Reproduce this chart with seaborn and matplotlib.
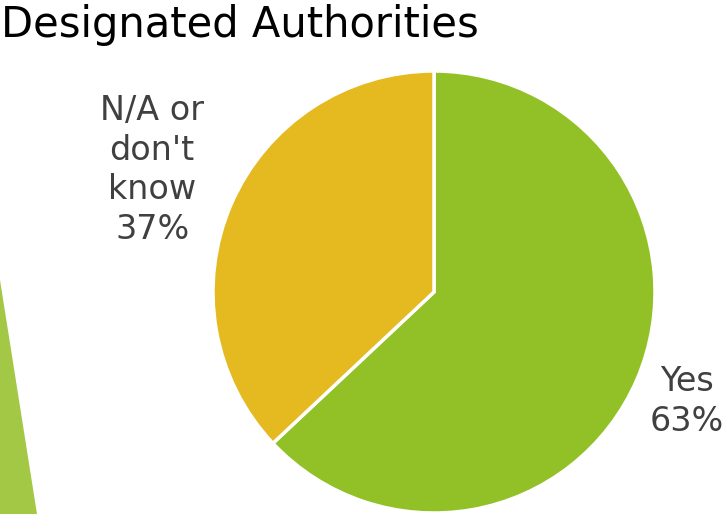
import numpy as np
import matplotlib
matplotlib.use("Agg")
import matplotlib.pyplot as plt
import seaborn as sns

# Survey answers
categories = ["Yes", "N/A or\ndon't\nknow"]
shares = [63, 37]

sns.set_theme(style="white")
plt.rcParams["font.family"] = ["DejaVu Sans"]

slice_colors = ["#92C127", "#E5B920"]
label_dist = [1.245, 1.39]

fig = plt.figure(figsize=(7.25, 5.14), dpi=100)

# decorative accent on the left edge
deco = fig.add_axes([0, 0, 1, 1])
deco.set_xlim(0, 725)
deco.set_ylim(514, 0)
deco.axis("off")
deco.fill([0, 0, 37, 0], [280, 514, 514, 280], color="#A3C846", lw=0)

ax = fig.add_axes([213 / 725, 1 / 514, 442 / 725, 442 / 514])
wedges, _ = ax.pie(shares, colors=slice_colors, startangle=90, counterclock=False,
                   wedgeprops=dict(edgecolor="white", linewidth=2.5))
ax.set_xlim(-1, 1)
ax.set_ylim(-1, 1)
ax.set_aspect("equal")
ax.axis("off")

for w, cat, val, d in zip(wedges, categories, shares, label_dist):
    mid = np.deg2rad((w.theta1 + w.theta2) / 2)
    ax.text(d * np.cos(mid), d * np.sin(mid), f"{cat}\n{val}%", ha="center", va="center",
            fontsize=24, color="#404040", linespacing=1.25, clip_on=False)

fig.text(1 / 725, 1 - 25 / 514, "Designated Authorities", fontsize=30, color="black",
         ha="left", va="center")

fig.savefig("out.png", dpi=100)
